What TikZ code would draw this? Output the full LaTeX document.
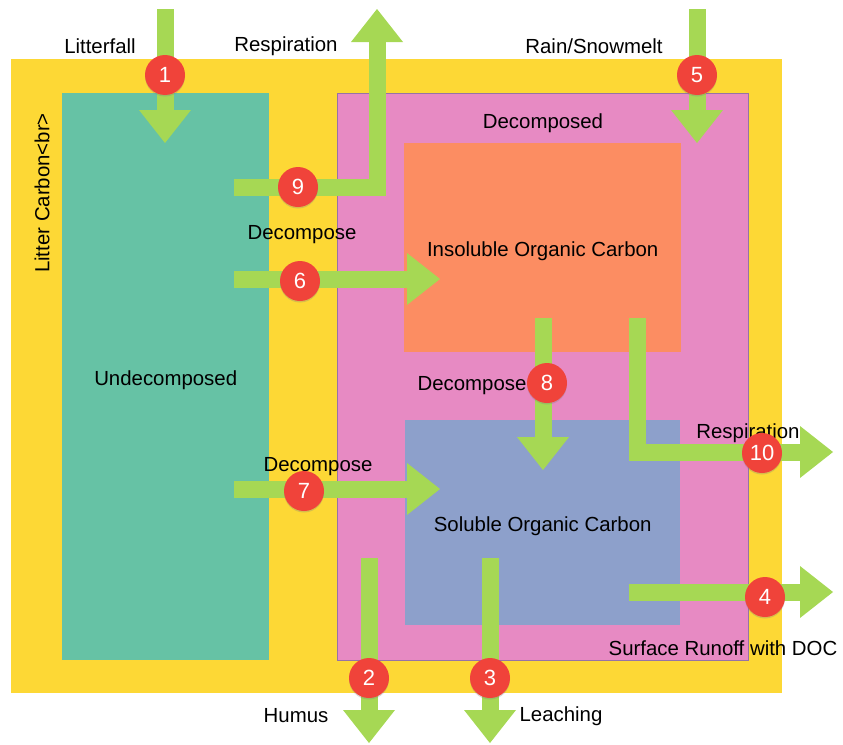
\documentclass[tikz,border=0pt]{standalone}
\usepackage{fontspec}
\setmainfont{Liberation Sans}
\usetikzlibrary{arrows.meta, positioning, shadows}
\definecolor{litterbg}{HTML}{FDD835}
\definecolor{undecbg}{HTML}{66C2A5}
\definecolor{decbg}{HTML}{E78AC3}
\definecolor{decline}{HTML}{9673A6}
\definecolor{insolbg}{HTML}{FC8D62}
\definecolor{solbg}{HTML}{8DA0CB}
\definecolor{flowgreen}{HTML}{A6D854}
\definecolor{badgered}{HTML}{F0433A}

\begin{document}
\begin{tikzpicture}[
    x=1pt, y=-1pt,
    every node/.style={font=\fontsize{20.4}{24}\selectfont},
    pool/.style={rectangle, anchor=north west, inner sep=0pt},
    flow/.style={draw=flowgreen, line width=17pt, line join=miter,
        -{Triangle[width=52pt, length=33pt, line width=0pt]}},
    badge/.style={circle, fill=badgered, text=white, minimum size=40pt,
        inner sep=0pt, font=\fontsize{22}{24}\selectfont,
        drop shadow={opacity=0.3, shadow xshift=0pt, shadow yshift=-1.5pt}}
]
\useasboundingbox (0,0) rectangle (843,744);

% Pools
\node[pool, fill=litterbg, minimum width=771pt, minimum height=634pt] (litter) at (11,59) {};
\node[pool, fill=undecbg, minimum width=207pt, minimum height=567pt] (undec) at (62,93) {};
\node[pool, fill=decbg, draw=decline, line width=1pt, minimum width=411pt, minimum height=567pt] (dec) at (337,93) {};
\node[pool, fill=insolbg, minimum width=277pt, minimum height=209pt] (insol) at (404,143) {};
\node[pool, fill=solbg, minimum width=275pt, minimum height=205pt] (sol) at (405,420) {};
\node (undectxt) at ([yshift=-4pt]undec.center) {Undecomposed};
\node (insoltxt) at ([yshift=-4pt]insol.center) {Insoluble Organic Carbon};
\node (soltxt) at ([yshift=-4pt]sol.center) {Soluble Organic Carbon};
\node[rotate=90] (littertxt) at (42,193) {Litter Carbon<br>};
\node (dectxt) at (543,123) {Decomposed};

% Flow end points
\coordinate (fallS) at (165,9);   \coordinate (fallE) at (165,143);
\coordinate (resS) at (234,187);  \coordinate (resB) at (377,187);  \coordinate (resE) at (377,9);
\coordinate (rainS) at (697,9);   \coordinate (rainE) at (697,143);
\coordinate (insS) at (234,279);  \coordinate (insE) at (440,279);
\coordinate (solS) at (234,489);  \coordinate (solE) at (440,489);
\coordinate (dissS) at (543,318); \coordinate (dissE) at (543,470);
\coordinate (soilS) at (637,318); \coordinate (soilB) at (637,452); \coordinate (soilE) at (833,452);
\coordinate (runS) at (629,592);  \coordinate (runE) at (833,592);
\coordinate (humS) at (369,558);  \coordinate (humE) at (369,743);
\coordinate (leaS) at (490,558);  \coordinate (leaE) at (490,743);

% Flows
\draw[flow] (fallS) -- (fallE);
\draw[flow] (resS) -- (resB) -- (resE);
\draw[flow] (rainS) -- (rainE);
\draw[flow] (insS) -- (insE);
\draw[flow] (solS) -- (solE);
\draw[flow] (dissS) -- (dissE);
\draw[flow] (soilS) -- (soilB) -- (soilE);
\draw[flow] (runS) -- (runE);
\draw[flow] (humS) -- (humE);
\draw[flow] (leaS) -- (leaE);

% Flow labels
\node (fallLbl) at (100,46) {Litterfall};
\node (resLbl) at (286,46) {Respiration};
\node (rainLbl) at (594,46) {Rain/Snowmelt};
\node (insLbl) at (302,235) {Decompose};
\node (dissLbl) at (472,386) {Decompose};
\node (soilLbl) at (748,433) {Respiration};
\node (solLbl) at (318,467) {Decompose};
\node (runLbl) at (723,648) {Surface Runoff with DOC};
\node (humLbl) at (296,716) {Humus};
\node (leaLbl) at (561,716) {Leaching};

% Badges
\node[badge] (b1) at (165,75) {1};
\node[badge] (b2) at (369,678) {2};
\node[badge] (b3) at (490,678) {3};
\node[badge] (b4) at (765,597) {4};
\node[badge] (b5) at (697,75) {5};
\node[badge] (b6) at (300,281) {6};
\node[badge] (b7) at (304,491) {7};
\node[badge] (b8) at (547,383) {8};
\node[badge] (b9) at (298,187) {9};
\node[badge] (b10) at (762,453) {10};
\end{tikzpicture}
\end{document}
